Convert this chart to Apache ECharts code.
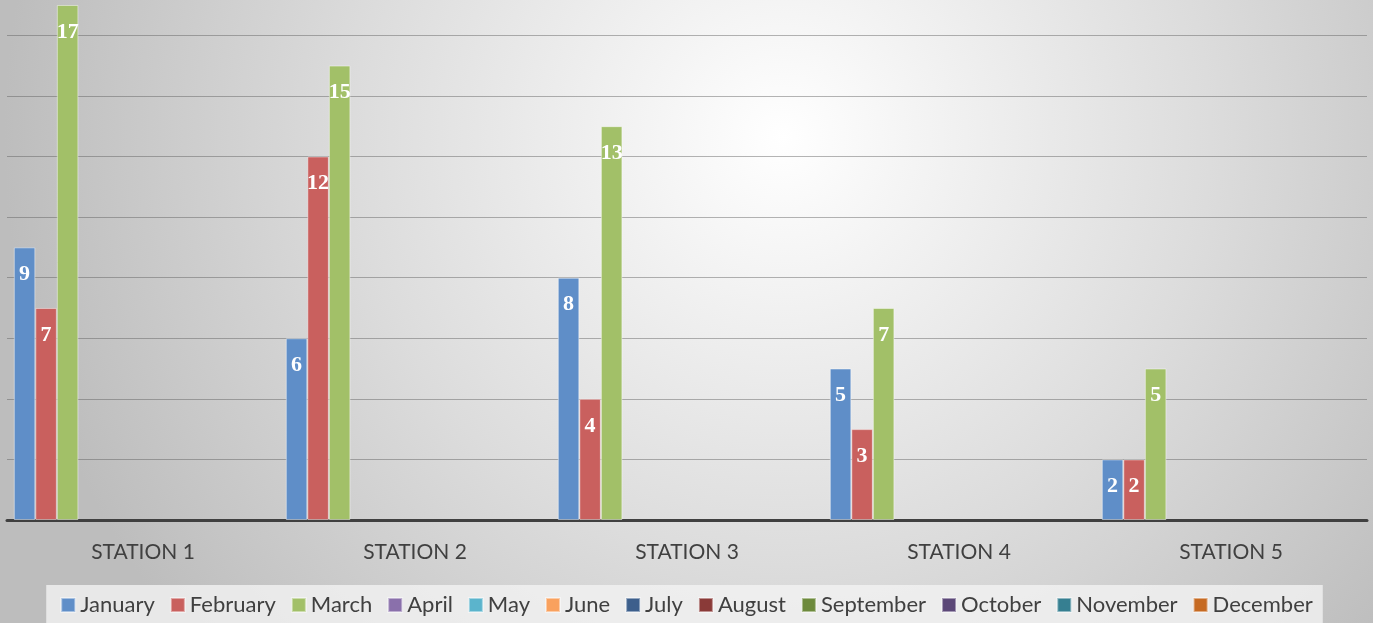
<!DOCTYPE html>
<html><head><meta charset="utf-8">
<script src="https://cdn.jsdelivr.net/npm/echarts@6/dist/echarts.min.js"></script>
<style>html,body{margin:0;padding:0;}#c{width:1373px;height:623px;}</style>
</head><body><div id="c"></div>
<script>
const categories = ['STATION 1','STATION 2','STATION 3','STATION 4','STATION 5'];
const months = ['January','February','March','April','May','June','July','August','September','October','November','December'];
const january = [9, 6, 8, 5, 2];
const february = [7, 12, 4, 3, 2];
const march = [17, 15, 13, 7, 5];
const empty = [null, null, null, null, null];
const colors = ['#5f8ec8','#c9605e','#a2c068','#8a70ab','#5bb4cc','#f9a15e','#3d5f8c','#8a3a38','#6d8a3c','#5c4878','#367f91','#c66a22'];
const seriesData = [january, february, march, empty, empty, empty, empty, empty, empty, empty, empty, empty];

const chart = echarts.init(document.getElementById('c'));
chart.setOption({
  backgroundColor: {
    type: 'radial', x: 0.57, y: 0.22, r: 1.25,
    colorStops: [{offset: 0, color: '#ffffff'}, {offset: 0.55, color: '#dcdcdc'}, {offset: 1, color: '#bdbdbd'}]
  },
  animation: false,
  color: colors,
  grid: {left: 7, right: 6, top: 5, bottom: 103},
  legend: {
    bottom: 0, left: 'center',
    backgroundColor: 'rgba(242,242,242,0.8)',
    padding: [9, 10, 7, 14],
    itemWidth: 14, itemHeight: 14, itemGap: 15,
    icon: 'rect',
    textStyle: {fontFamily: 'Lato', fontSize: 22, color: '#404040'},
    data: months
  },
  xAxis: {
    type: 'category', data: categories,
    axisLine: {lineStyle: {color: '#404040', width: 3}},
    axisTick: {show: false},
    axisLabel: {fontFamily: 'Lato', fontSize: 21, color: '#404040', margin: 22}
  },
  yAxis: {
    type: 'value', min: 0, max: 17, interval: 2,
    axisLabel: {show: false}, axisLine: {show: false}, axisTick: {show: false},
    splitLine: {showMaxLine: false, lineStyle: {color: 'rgba(90,90,90,0.45)', width: 1}}
  },
  series: months.map((m, i) => ({
    name: m, type: 'bar', data: seriesData[i],
    barGap: '0%', barCategoryGap: '5%',
    itemStyle: {borderColor: 'rgba(255,255,255,0.45)', borderWidth: 1},
    label: {
      show: true, position: 'insideTop', distance: 16,
      fontFamily: 'Liberation Serif', fontWeight: 'bold', fontSize: 22, color: '#ffffff'
    }
  }))
});
</script></body></html>
